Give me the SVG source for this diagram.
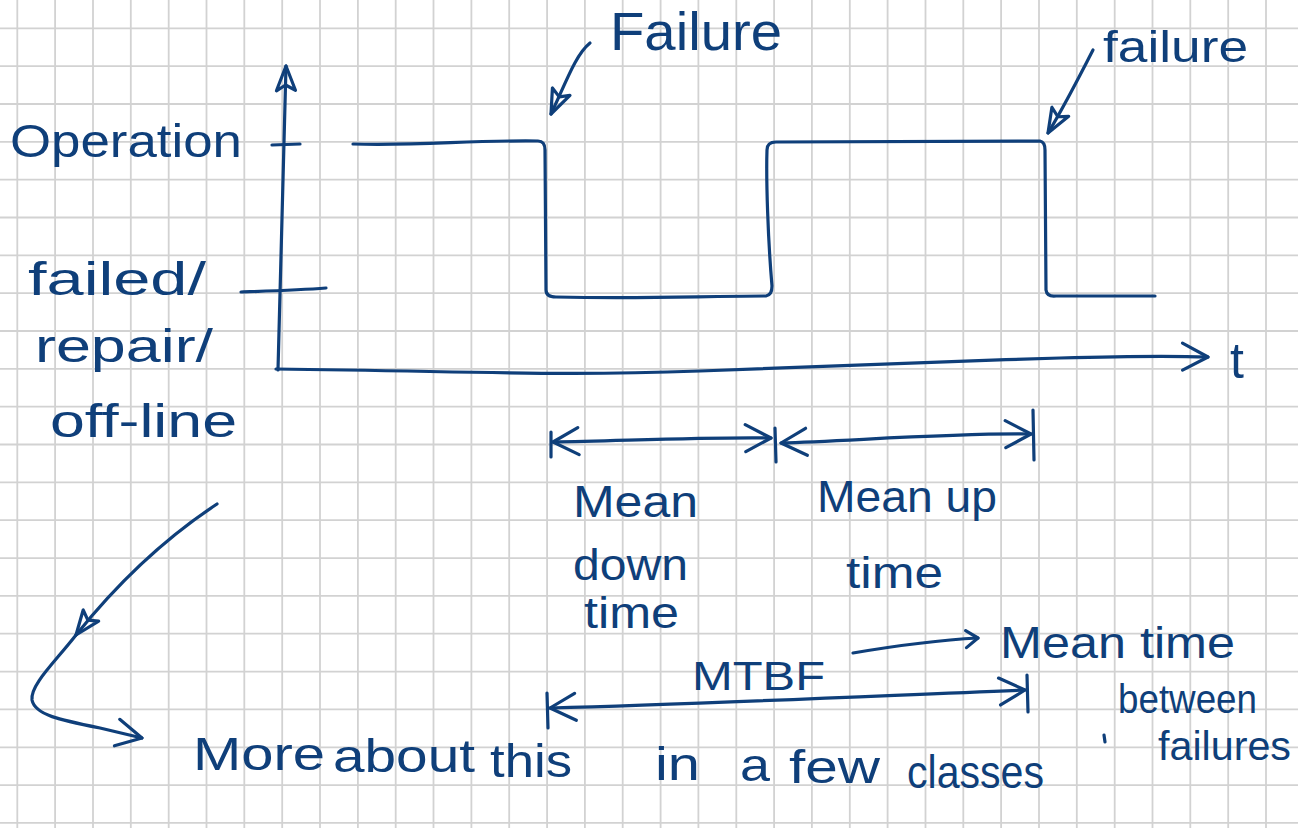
<svg xmlns="http://www.w3.org/2000/svg" width="1298" height="828" viewBox="0 0 1298 828">
  <style>
    .grid { stroke: #d2d2d2; stroke-width: 1.8; fill: none; }
    .ink { stroke: #0f3f7a; stroke-width: 3.2; fill: none; stroke-linecap: round; stroke-linejoin: round; }
    .hand { fill: #0f3f7a; font-family: "Liberation Sans", "DejaVu Sans", sans-serif; }
  </style>
  <defs>
    <!-- open chevron head for dimension arrows and the time axis -->
    <marker id="chev" viewBox="-30 -18 34 36" markerWidth="34" markerHeight="36" refX="0" refY="0" markerUnits="userSpaceOnUse" orient="auto-start-reverse" overflow="visible">
      <path d="M-26,-13 L0,0 L-25,14" stroke="#0f3f7a" stroke-width="3.2" fill="none" stroke-linecap="round" stroke-linejoin="round"/>
    </marker>
    <marker id="chevSmall" viewBox="-20 -12 24 24" markerWidth="24" markerHeight="24" refX="0" refY="0" markerUnits="userSpaceOnUse" orient="auto" overflow="visible">
      <path d="M-12,-8 L0,0 L-12,9" stroke="#0f3f7a" stroke-width="3.2" fill="none" stroke-linecap="round" stroke-linejoin="round"/>
    </marker>
    <!-- outlined triangle head for pointer arrows -->
    <marker id="tri" viewBox="-30 -14 34 28" markerWidth="34" markerHeight="28" refX="0" refY="0" markerUnits="userSpaceOnUse" orient="auto" overflow="visible">
      <path d="M0,0 L-25,-9 L-19,0 L-24,10 Z" stroke="#0f3f7a" stroke-width="3.2" fill="none" stroke-linecap="round" stroke-linejoin="round"/>
    </marker>
  </defs>

  <rect x="0" y="0" width="1298" height="828" fill="#ffffff"/>

  <!-- squared paper -->
  <path class="grid" d="M17.3,0V828 M55.1,0V828 M93,0V828 M130.8,0V828 M168.7,0V828 M206.5,0V828 M244.3,0V828 M282.2,0V828 M320,0V828 M357.9,0V828 M395.7,0V828 M433.5,0V828 M471.4,0V828 M509.2,0V828 M547.1,0V828 M584.9,0V828 M622.7,0V828 M660.6,0V828 M698.4,0V828 M736.3,0V828 M774.1,0V828 M811.9,0V828 M849.8,0V828 M887.6,0V828 M925.5,0V828 M963.3,0V828 M1001.1,0V828 M1039,0V828 M1076.8,0V828 M1114.7,0V828 M1152.5,0V828 M1190.3,0V828 M1228.2,0V828 M1266,0V828
    M0,28.3H1298 M0,66.1H1298 M0,104H1298 M0,141.8H1298 M0,179.7H1298 M0,217.5H1298 M0,255.3H1298 M0,293.2H1298 M0,331H1298 M0,368.9H1298 M0,406.7H1298 M0,444.5H1298 M0,482.4H1298 M0,520.2H1298 M0,558.1H1298 M0,595.9H1298 M0,633.7H1298 M0,671.6H1298 M0,709.4H1298 M0,747.3H1298 M0,785.1H1298 M0,822.9H1298"/>

  <!-- axes, state signal and arrows -->
  <g id="connectors">
    <path id="axis-y" class="ink" d="M278,370 C280,300 283,200 286,66" marker-end="url(#tri)"/>
    <path id="axis-t" class="ink" d="M276,369 C500,372 560,376 700,371 C850,366 950,361 1060,358 C1130,356 1180,356 1208,357" marker-end="url(#chev)"/>
    <path id="tick-operation" class="ink" d="M272,145 L300,144"/>
    <path id="tick-failed" class="ink" d="M241,292 C270,291 300,290 326,288"/>
    <path id="state-signal" class="ink" d="M353,144 C420,146 470,140 538,141 Q545,141 545,150 L546,290 Q546,297 556,297 C650,299 700,296 766,296 Q772,295 772,286 C768,240 766,180 767,150 Q767,142 776,142 L1040,141 Q1045,142 1045,150 L1046,290 Q1047,297 1056,296 L1155,296"/>

    <path id="ptr-failure-1" class="ink" d="M590,43 C575,55 565,85 551,114" marker-end="url(#tri)"/>
    <path id="ptr-failure-2" class="ink" d="M1093,50 C1080,75 1065,105 1048,133" marker-end="url(#tri)"/>

    <path class="ink" d="M551,432 L551,457"/>
    <path id="dim-down" class="ink" d="M553,442 C620,441 700,437 771,438" marker-start="url(#chev)" marker-end="url(#chev)"/>
    <path class="ink" d="M775,428 L776,462"/>
    <path id="dim-up" class="ink" d="M781,443 C850,441 950,433 1031,434" marker-start="url(#chev)" marker-end="url(#chev)"/>
    <path class="ink" d="M1033,410 L1034,460"/>

    <path class="ink" d="M547,693 L548,728"/>
    <path id="dim-mtbf" class="ink" d="M550,708 C700,704 850,697 1025,690" marker-start="url(#chev)" marker-end="url(#chev)"/>
    <path class="ink" d="M1027,675 L1028,712"/>
    <path id="ptr-mtbf" class="ink" d="M853,653 C900,645 940,640 978,638" marker-end="url(#chevSmall)"/>

    <path id="ptr-note-a" class="ink" d="M217,504 C170,535 120,580 76,635" marker-end="url(#tri)"/>
    <path id="ptr-note-b" class="ink" d="M76,635 C55,662 30,685 32,700 C35,715 60,720 100,728 L142,738" marker-end="url(#chev)"/>
  </g>

  <!-- labels -->
  <g id="label-operation"><text class="hand" x="10" y="157" font-size="46" textLength="232" lengthAdjust="spacingAndGlyphs">Operation</text></g>
  <g id="label-failed">
    <text class="hand" x="28" y="295" font-size="46" textLength="178" lengthAdjust="spacingAndGlyphs">failed/</text>
    <text class="hand" x="35" y="362" font-size="46" textLength="178" lengthAdjust="spacingAndGlyphs">repair/</text>
    <text class="hand" x="50" y="437" font-size="46" textLength="187" lengthAdjust="spacingAndGlyphs">off-line</text>
  </g>
  <g id="label-t"><text class="hand" x="1230" y="378" font-size="50">t</text></g>
  <g id="label-failure-1"><text class="hand" x="610" y="50" font-size="54" textLength="172" lengthAdjust="spacingAndGlyphs">Failure</text></g>
  <g id="label-failure-2"><text class="hand" x="1103" y="62" font-size="44" textLength="145" lengthAdjust="spacingAndGlyphs">failure</text></g>
  <g id="label-down">
    <text class="hand" x="573" y="517" font-size="44" textLength="125" lengthAdjust="spacingAndGlyphs">Mean</text>
    <text class="hand" x="573" y="580" font-size="44" textLength="115" lengthAdjust="spacingAndGlyphs">down</text>
    <text class="hand" x="584" y="628" font-size="44" textLength="95" lengthAdjust="spacingAndGlyphs">time</text>
  </g>
  <g id="label-up">
    <text class="hand" x="817" y="512" font-size="44" textLength="180" lengthAdjust="spacingAndGlyphs">Mean up</text>
    <text class="hand" x="846" y="588" font-size="44" textLength="97" lengthAdjust="spacingAndGlyphs">time</text>
  </g>
  <g id="label-mtbf"><text class="hand" x="692" y="690" font-size="40" textLength="133" lengthAdjust="spacingAndGlyphs">MTBF</text></g>
  <g id="label-mtbf-meaning">
    <text class="hand" x="1000" y="658" font-size="44" textLength="235" lengthAdjust="spacingAndGlyphs">Mean time</text>
    <path class="ink" d="M1104,735 L1105,742"/>
    <text class="hand" x="1118" y="713" font-size="40" textLength="139" lengthAdjust="spacingAndGlyphs">between</text>
    <text class="hand" x="1158" y="760" font-size="40" textLength="133" lengthAdjust="spacingAndGlyphs">failures</text>
  </g>
  <g id="label-note">
    <text class="hand" x="193" y="770" font-size="46" textLength="132" lengthAdjust="spacingAndGlyphs">More</text>
    <text class="hand" x="333" y="772" font-size="46" textLength="142" lengthAdjust="spacingAndGlyphs">about</text>
    <text class="hand" x="490" y="777" font-size="46" textLength="82" lengthAdjust="spacingAndGlyphs">this</text>
    <text class="hand" x="655" y="780" font-size="46" textLength="45" lengthAdjust="spacingAndGlyphs">in</text>
    <text class="hand" x="740" y="781" font-size="46" textLength="30" lengthAdjust="spacingAndGlyphs">a</text>
    <text class="hand" x="789" y="783" font-size="46" textLength="91" lengthAdjust="spacingAndGlyphs">few</text>
    <text class="hand" x="907" y="788" font-size="46" textLength="137" lengthAdjust="spacingAndGlyphs">classes</text>
  </g>
</svg>
